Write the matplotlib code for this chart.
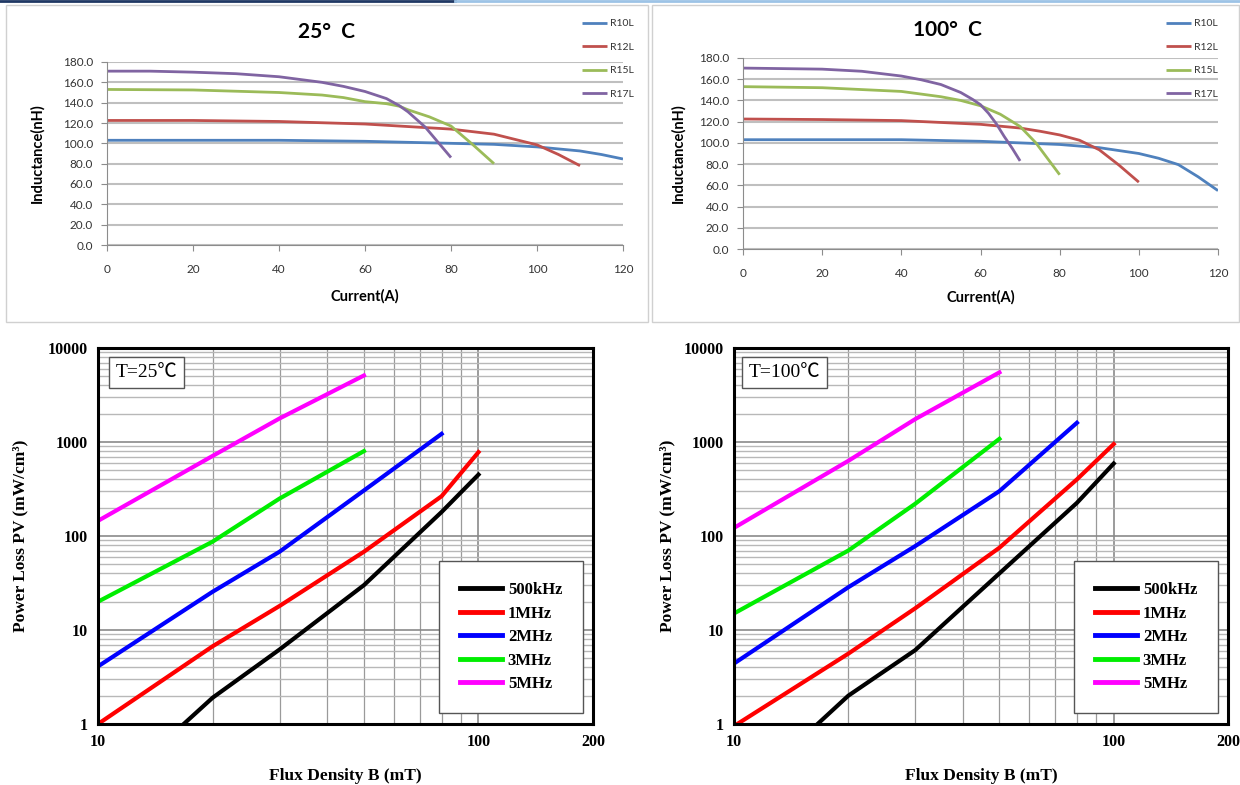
import numpy as np
import matplotlib
matplotlib.use("Agg")
import matplotlib.pyplot as plt
from matplotlib.lines import Line2D
from matplotlib.patches import Rectangle
from matplotlib.ticker import FixedLocator, FuncFormatter, NullFormatter

# ---------------- inductance vs current, 25 C ----------------
r10l_25_i = [0, 20, 40, 50, 60, 70, 80, 90, 100, 110, 115, 120]
r10l_25_l = [103, 103, 103, 102.5, 102, 101, 100, 99, 96.5, 92.5, 89, 84.6]
r12l_25_i = [0, 20, 40, 60, 70, 80, 90, 100, 105, 110]
r12l_25_l = [122.5, 122.5, 121.5, 119, 116.5, 114, 109, 98.5, 89, 78]
r15l_25_i = [0, 20, 40, 50, 55, 60, 65, 68, 70, 75, 80, 85, 90]
r15l_25_l = [153, 152.5, 150, 147.5, 145, 141, 139, 136.5, 133, 126, 117, 99, 80]
r17l_25_i = [0, 10, 20, 30, 40, 50, 55, 60, 65, 68, 70, 74, 77, 80]
r17l_25_l = [171, 171, 170, 168.5, 165.5, 160, 156, 151, 144, 137, 131, 116, 101, 86]

# ---------------- inductance vs current, 100 C ----------------
r10l_100_i = [0, 20, 40, 60, 70, 80, 90, 100, 105, 110, 115, 120]
r10l_100_l = [103, 103, 103, 101.5, 100, 98.5, 95.5, 90, 85.5, 79.5, 68, 55]
r12l_100_i = [0, 20, 40, 60, 70, 75, 80, 85, 90, 95, 100]
r12l_100_l = [122.5, 122, 121, 117.5, 114, 111, 107.5, 102.5, 93.5, 79, 63]
r15l_100_i = [0, 20, 40, 50, 55, 60, 65, 70, 74, 77, 80]
r15l_100_l = [153, 152, 148.5, 143.5, 140, 135, 127, 115.5, 100, 85, 70]
r17l_100_i = [0, 20, 30, 40, 45, 50, 55, 58, 60, 62, 64, 66, 68, 70]
r17l_100_l = [170.5, 169.5, 167.5, 163, 159.5, 155, 147.5, 141, 136, 128, 118, 106, 95, 83]

ind_names = ["R10L", "R12L", "R15L", "R17L"]
ind_colors = ["#4f81bd", "#c0504d", "#9bbb59", "#8064a2"]

# ---------------- core loss, 25 C ----------------
b_500k_25 = [16.8, 20, 30, 50, 80, 100]
pv_500k_25 = [1, 1.9, 6.2, 30, 180, 450]
b_1m_25 = [10, 20, 30, 50, 80, 100]
pv_1m_25 = [1, 6.7, 18, 68, 265, 780]
b_2m_25 = [10, 20, 30, 50, 80]
pv_2m_25 = [4.1, 25.5, 68, 305, 1220]
b_3m_25 = [10, 20, 30, 50]
pv_3m_25 = [20, 87, 250, 800]
b_5m_25 = [10, 20, 30, 50]
pv_5m_25 = [145, 710, 1780, 5100]

# ---------------- core loss, 100 C ----------------
b_500k_100 = [16.6, 20, 30, 50, 80, 100]
pv_500k_100 = [1, 2.0, 6.1, 40, 225, 590]
b_1m_100 = [10, 20, 30, 50, 80, 100]
pv_1m_100 = [0.95, 5.6, 17, 75, 400, 950]
b_2m_100 = [10, 20, 30, 50, 80]
pv_2m_100 = [4.4, 28.5, 78, 300, 1600]
b_3m_100 = [10, 20, 30, 50]
pv_3m_100 = [15, 70, 220, 1080]
b_5m_100 = [10, 20, 30, 50]
pv_5m_100 = [122, 630, 1750, 5500]

freq_names = ["500kHz", "1MHz", "2MHz", "3MHz", "5MHz"]
freq_colors = ["#000000", "#ff0000", "#0000ff", "#00ee00", "#ff00ff"]

W, H = 1240, 785
fig = plt.figure(figsize=(W / 100, H / 100), dpi=100)


def fx(px):
    return px / W


def fy(py):
    return 1 - py / H


def box(x0, y0, x1, y1):
    # pixel box -> figure axes rect
    return [fx(x0), fy(y1), fx(x1) - fx(x0), fy(y0) - fy(y1)]


# frames of the two upper excel charts + top strip
fig.add_artist(Rectangle((fx(6), fy(322)), fx(648) - fx(6), fy(5) - fy(322),
                         transform=fig.transFigure, fill=False, ec="#d0d0d0", lw=1))
fig.add_artist(Rectangle((fx(652), fy(322)), fx(1239) - fx(652), fy(5) - fy(322),
                         transform=fig.transFigure, fill=False, ec="#d0d0d0", lw=1))
fig.add_artist(Line2D([0, fx(455)], [fy(1), fy(1)], transform=fig.transFigure,
                      color="#1f3864", lw=2))
fig.add_artist(Line2D([fx(455), 1], [fy(1), fy(1)], transform=fig.transFigure,
                      color="#9dc3e6", lw=2))

xl_font = ["Lato", "DejaVu Sans"]


def inductance_panel(rect, series, title, title_xy, ylab_x, xlab_xy, leg_xy):
    ax = fig.add_axes(rect)
    for (i, l), name, c in zip(series, ind_names, ind_colors):
        ax.plot(i, l, color=c, lw=2, label=name, solid_capstyle="butt")
    ax.set_xlim(0, 120)
    ax.set_ylim(0, 180)
    ax.set_xticks(np.arange(0, 121, 20))
    ax.set_yticks(np.arange(0, 181, 20))
    ax.yaxis.set_major_formatter(FuncFormatter(lambda v, p: "%.1f" % v))
    ax.grid(axis="y", color="#bfbfbf", lw=1.5)
    ax.set_axisbelow(True)
    for s in ["top", "right"]:
        ax.spines[s].set_visible(False)
    for s in ["left", "bottom"]:
        ax.spines[s].set_color("#8c8c8c")
    ax.tick_params(colors="#8c8c8c", labelcolor="#333333", labelsize=8.5, length=4)
    ax.tick_params(axis="x", pad=10)
    ax.tick_params(axis="y", pad=6)
    for lab in ax.get_xticklabels() + ax.get_yticklabels():
        lab.set_family(xl_font)
    fig.text(fx(title_xy[0]), fy(title_xy[1]), title, family=xl_font, fontsize=15,
             fontweight="bold", ha="center", va="center")
    fig.text(fx(ylab_x), (rect[1] + rect[1] + rect[3]) / 2, "Inductance(nH)", family=xl_font,
             fontsize=10.5, fontweight="bold", rotation=90, ha="center", va="center")
    fig.text(fx(xlab_xy[0]), fy(xlab_xy[1]), "Current(A)", family=xl_font, fontsize=10.5,
             fontweight="bold", ha="center", va="center")
    leg = ax.legend(loc="upper left", bbox_to_anchor=(fx(leg_xy[0]), fy(leg_xy[1])),
                    bbox_transform=fig.transFigure, frameon=False, fontsize=7.5,
                    handlelength=2.4, handletextpad=0.3, labelspacing=1.35, borderpad=0)
    for t in leg.get_texts():
        t.set_family(xl_font)
        t.set_color("#333333")
    return ax


inductance_panel(box(107, 62, 623, 245),
                 [(r10l_25_i, r10l_25_l), (r12l_25_i, r12l_25_l),
                  (r15l_25_i, r15l_25_l), (r17l_25_i, r17l_25_l)],
                 "25°  C", (327, 32), 37, (365, 296), (577, 14))
inductance_panel(box(743, 58, 1218, 249),
                 [(r10l_100_i, r10l_100_l), (r12l_100_i, r12l_100_l),
                  (r15l_100_i, r15l_100_l), (r17l_100_i, r17l_100_l)],
                 "100°  C", (947, 30), 678, (981, 297), (1161, 14))

serif = ["Liberation Serif", "DejaVu Serif"]
serif_cjk = ["Liberation Serif", "Noto Sans CJK SC", "DejaVu Serif"]


def loss_panel(rect, series, tag, tag_x, ylab_x, leg_xy):
    ax = fig.add_axes(rect)
    for (b, pv), name, c in zip(series, freq_names, freq_colors):
        ax.plot(b, pv, color=c, lw=3, label=name, clip_on=True)
    ax.set_xscale("log")
    ax.set_yscale("log")
    ax.set_xlim(10, 200)
    ax.set_ylim(1, 10000)
    ax.xaxis.set_major_locator(FixedLocator([10, 100, 200]))
    ax.xaxis.set_minor_locator(FixedLocator([20, 30, 40, 50, 60, 70, 80, 90]))
    ax.xaxis.set_major_formatter(FuncFormatter(lambda v, p: "%d" % v))
    ax.xaxis.set_minor_formatter(NullFormatter())
    ax.yaxis.set_major_locator(FixedLocator([1, 10, 100, 1000, 10000]))
    ax.yaxis.set_minor_locator(FixedLocator([m * 10 ** d for d in range(4) for m in range(2, 10)]))
    ax.yaxis.set_major_formatter(FuncFormatter(lambda v, p: "%d" % v))
    ax.yaxis.set_minor_formatter(NullFormatter())
    ax.grid(which="major", color="#8a8a8a", lw=1.2)
    ax.grid(which="minor", axis="y", color="#b8b8b8", lw=1.0)
    ax.grid(which="minor", axis="x", color="#9a9a9a", lw=0.9)
    ax.set_axisbelow(True)
    for s in ax.spines.values():
        s.set_linewidth(2.2)
        s.set_color("black")
    ax.tick_params(which="both", length=0, labelsize=11.5, pad=7)
    for lab in ax.get_xticklabels() + ax.get_yticklabels():
        lab.set_family(serif)
        lab.set_fontweight("bold")
    ax.set_xlabel("Flux Density B (mT)", family=serif, fontsize=12.5, fontweight="bold",
                  labelpad=13)
    fig.text(fx(ylab_x), (rect[1] + rect[1] + rect[3]) / 2, "Power Loss PV (mW/cm³)",
             family=serif, fontsize=12.5, fontweight="bold", rotation=90,
             ha="center", va="center")
    ax.text(tag_x, 0.935, tag, transform=ax.transAxes, family=serif_cjk, fontsize=14,
            ha="left", va="center",
            bbox=dict(boxstyle="square,pad=0.35", fc="white", ec="#555555", lw=1))
    leg = ax.legend(loc="lower right", bbox_to_anchor=(fx(leg_xy[0]), fy(leg_xy[1])),
                    bbox_transform=fig.transFigure, fancybox=False, framealpha=1,
                    edgecolor="#555555", prop=dict(family=serif, weight="bold", size=12),
                    handlelength=2.5, handletextpad=0.35, labelspacing=0.45,
                    borderpad=1.25, borderaxespad=0)
    leg.get_frame().set_linewidth(1)
    for ln in leg.get_lines():
        ln.set_linewidth(3.5)
    return ax


loss_panel(box(98, 348, 593, 724),
           [(b_500k_25, pv_500k_25), (b_1m_25, pv_1m_25), (b_2m_25, pv_2m_25),
            (b_3m_25, pv_3m_25), (b_5m_25, pv_5m_25)],
           "T=25℃", 0.035, 20, (583, 713))
loss_panel(box(734, 348, 1228, 724),
           [(b_500k_100, pv_500k_100), (b_1m_100, pv_1m_100), (b_2m_100, pv_2m_100),
            (b_3m_100, pv_3m_100), (b_5m_100, pv_5m_100)],
           "T=100℃", 0.03, 667, (1218, 713))

fig.savefig("out.png", dpi=100)
